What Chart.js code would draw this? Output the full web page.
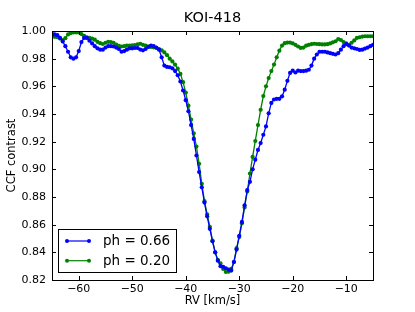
<!DOCTYPE html>
<html><head><meta charset="utf-8">
<script src="https://cdn.jsdelivr.net/npm/chart.js@4/dist/chart.umd.min.js"></script>
<style>html,body{margin:0;padding:0;background:#fff;}canvas{display:block;}</style>
</head><body>
<canvas id="c" width="415" height="312"></canvas>
<script>
const chartTitle = 'KOI-418';
const xTitle = 'RV [km/s]';
const yTitle = 'CCF contrast';
const seriesLabels = ['ph = 0.66', 'ph = 0.20'];
const xTicks = [-60, -50, -40, -30, -20, -10];
const yTicks = [0.82, 0.84, 0.86, 0.88, 0.90, 0.92, 0.94, 0.96, 0.98, 1.00];

const rv = [
 -65,-64.5,-64,-63.5,-63,-62.5,-62,-61.5,-61,-60.5,
 -60,-59.5,-59,-58.5,-58,-57.5,-57,-56.5,-56,-55.5,
 -55,-54.5,-54,-53.5,-53,-52.5,-52,-51.5,-51,-50.5,
 -50,-49.5,-49,-48.5,-48,-47.5,-47,-46.5,-46,-45.5,
 -45,-44.5,-44,-43.5,-43,-42.5,-42,-41.5,-41,-40.5,
 -40,-39.5,-39,-38.5,-38,-37.5,-37,-36.5,-36,-35.5,
 -35,-34.5,-34,-33.5,-33,-32.5,-32,-31.5,-31,-30.5,
 -30,-29.5,-29,-28.5,-28,-27.5,-27,-26.5,-26,-25.5,
 -25,-24.5,-24,-23.5,-23,-22.5,-22,-21.5,-21,-20.5,
 -20,-19.5,-19,-18.5,-18,-17.5,-17,-16.5,-16,-15.5,
 -15,-14.5,-14,-13.5,-13,-12.5,-12,-11.5,-11,-10.5,
 -10,-9.5,-9,-8.5,-8,-7.5,-7,-6.5,-6,-5.5,
 -5
];

const ccfPh066 = [
 0.998,0.9975,0.997,0.995,0.9925,0.989,0.985,0.981,0.980,0.981,
 0.9855,0.992,0.995,0.995,0.993,0.991,0.989,0.9875,0.9865,0.9865,
 0.988,0.989,0.989,0.9888,0.988,0.987,0.985,0.9855,0.9865,0.9875,
 0.9875,0.9877,0.9877,0.9866,0.986,0.987,0.9885,0.9895,0.989,0.988,
 0.9865,0.981,0.975,0.974,0.9738,0.973,0.971,0.968,0.9635,0.957,
 0.950,0.942,0.932,0.922,0.910,0.898,0.887,0.876,0.866,0.857,
 0.848,0.840,0.834,0.830,0.8295,0.8285,0.8275,0.8268,0.833,0.842,
 0.852,0.862,0.874,0.885,0.891,0.900,0.907,0.914,0.919,0.925,
 0.931,0.9405,0.948,0.9505,0.951,0.951,0.9528,0.9576,0.964,0.9697,
 0.9713,0.970,0.9713,0.971,0.971,0.9713,0.972,0.975,0.980,0.983,
 0.985,0.985,0.985,0.9845,0.984,0.9835,0.983,0.984,0.9865,0.989,
 0.9905,0.9895,0.988,0.9875,0.987,0.9863,0.9865,0.9873,0.988,0.989,
 0.990
];

const ccfPh020 = [
 0.996,0.9958,0.9955,0.9945,0.9935,0.9948,0.9975,0.9985,0.999,0.999,
 0.999,0.9978,0.9965,0.9955,0.995,0.9945,0.9937,0.9922,0.9912,0.9906,
 0.9915,0.9922,0.992,0.9915,0.9902,0.9893,0.9888,0.989,0.9895,0.9895,
 0.9897,0.9898,0.9903,0.9908,0.990,0.9895,0.9888,0.9885,0.9882,0.9878,
 0.987,0.986,0.9845,0.9825,0.980,0.978,0.9757,0.9728,0.969,0.963,
 0.9555,0.946,0.936,0.926,0.9165,0.904,0.8895,0.877,0.8675,0.8585,
 0.8485,0.840,0.8345,0.832,0.828,0.8258,0.826,0.828,0.833,0.843,
 0.851,0.861,0.8725,0.884,0.897,0.909,0.9205,0.932,0.943,0.953,
 0.960,0.966,0.971,0.9757,0.981,0.9858,0.9895,0.9912,0.9916,0.9916,
 0.991,0.990,0.9888,0.9878,0.988,0.9894,0.990,0.9905,0.9908,0.9906,
 0.9905,0.9903,0.9903,0.9905,0.991,0.9918,0.9926,0.9942,0.9935,0.992,
 0.991,0.990,0.9915,0.9932,0.995,0.9955,0.996,0.9962,0.9962,0.9962,
 0.9962
];

const colors = ['#0000ff', '#008000'];
const FONT = '"DejaVu Sans", "Liberation Sans", sans-serif';
const minus = v => (v < 0 ? '\u2212' + Math.abs(v) : String(v));

const toPts = ys => rv.map((x, i) => ({x: x, y: ys[i]}));

const decor = {
  id: 'decor',
  afterDraw(chart) {
    const ctx = chart.ctx;
    const a = chart.chartArea;
    const xs = chart.scales.x, ys = chart.scales.y;
    ctx.save();
    ctx.strokeStyle = '#000';
    ctx.lineWidth = 1;
    ctx.strokeRect(Math.round(a.left) + 0.5, Math.round(a.top) + 0.5,
                   Math.round(a.right - a.left), Math.round(a.bottom - a.top));
    const L = 4;
    ctx.beginPath();
    xTicks.forEach(v => {
      const px = Math.round(xs.getPixelForValue(v)) + 0.5;
      ctx.moveTo(px, a.bottom); ctx.lineTo(px, a.bottom - L);
      ctx.moveTo(px, a.top); ctx.lineTo(px, a.top + L);
    });
    yTicks.forEach(v => {
      const py = Math.round(ys.getPixelForValue(v)) + 0.5;
      ctx.moveTo(a.left, py); ctx.lineTo(a.left + L, py);
      ctx.moveTo(a.right, py); ctx.lineTo(a.right - L, py);
    });
    ctx.stroke();
    ctx.fillStyle = '#000';
    ctx.textAlign = 'center';
    ctx.textBaseline = 'middle';
    ctx.font = '14.5px ' + FONT;
    ctx.fillText(chartTitle, (a.left + a.right) / 2, 18);
    ctx.font = '11.5px ' + FONT;
    ctx.fillText(xTitle, (a.left + a.right) / 2, 301);
    ctx.save();
    ctx.translate(12, (a.top + a.bottom) / 2);
    ctx.rotate(-Math.PI / 2);
    ctx.fillText(yTitle, 0, 0);
    ctx.restore();
    const bx = 58.5, by = 229.5, bw = 118, bh = 43;
    ctx.fillStyle = '#fff';
    ctx.fillRect(bx, by, bw, bh);
    ctx.strokeStyle = '#000';
    ctx.strokeRect(bx, by, bw, bh);
    ctx.font = '13.5px ' + FONT;
    ctx.textAlign = 'left';
    seriesLabels.forEach((lab, i) => {
      const ly = 241 + i * 19.7;
      ctx.strokeStyle = colors[i];
      ctx.fillStyle = colors[i];
      ctx.lineWidth = 1.2;
      ctx.beginPath(); ctx.moveTo(67, ly); ctx.lineTo(89, ly); ctx.stroke();
      [67, 89].forEach(px => { ctx.beginPath(); ctx.arc(px, ly, 2, 0, Math.PI * 2); ctx.fill(); });
      ctx.fillStyle = '#000';
      ctx.fillText(lab, 103, ly + 0.5);
    });
    ctx.restore();
  }
};

new Chart(document.getElementById('c'), {
  type: 'line',
  data: {
    datasets: [
      {label: seriesLabels[0], data: toPts(ccfPh066), borderColor: colors[0], backgroundColor: colors[0],
       borderWidth: 1.3, pointRadius: 2.1, pointBorderWidth: 0, pointBackgroundColor: colors[0], tension: 0, fill: false},
      {label: seriesLabels[1], data: toPts(ccfPh020), borderColor: colors[1], backgroundColor: colors[1],
       borderWidth: 1.3, pointRadius: 2.1, pointBorderWidth: 0, pointBackgroundColor: colors[1], tension: 0, fill: false}
    ]
  },
  options: {
    responsive: false,
    animation: false,
    events: [],
    layout: {padding: {left: 0, top: 31, right: 42, bottom: 0}},
    plugins: {legend: {display: false}, tooltip: {enabled: false}, title: {display: false}},
    scales: {
      x: {
        type: 'linear', min: -65, max: -5,
        afterBuildTicks: s => { s.ticks = xTicks.map(v => ({value: v})); },
        afterFit: s => { s.height = 32; },
        grid: {display: false, drawTicks: false},
        border: {display: false},
        ticks: {color: '#000', font: {family: FONT, size: 11}, padding: 3, maxRotation: 0,
                callback: v => minus(v)}
      },
      y: {
        type: 'linear', min: 0.82, max: 1.00,
        afterBuildTicks: s => { s.ticks = yTicks.map(v => ({value: v})); },
        afterFit: s => { s.width = 52; },
        grid: {display: false, drawTicks: false},
        border: {display: false},
        ticks: {color: '#000', font: {family: FONT, size: 11}, padding: 6,
                callback: v => Number(v).toFixed(2)}
      }
    }
  },
  plugins: [decor]
});
</script>
</body></html>
